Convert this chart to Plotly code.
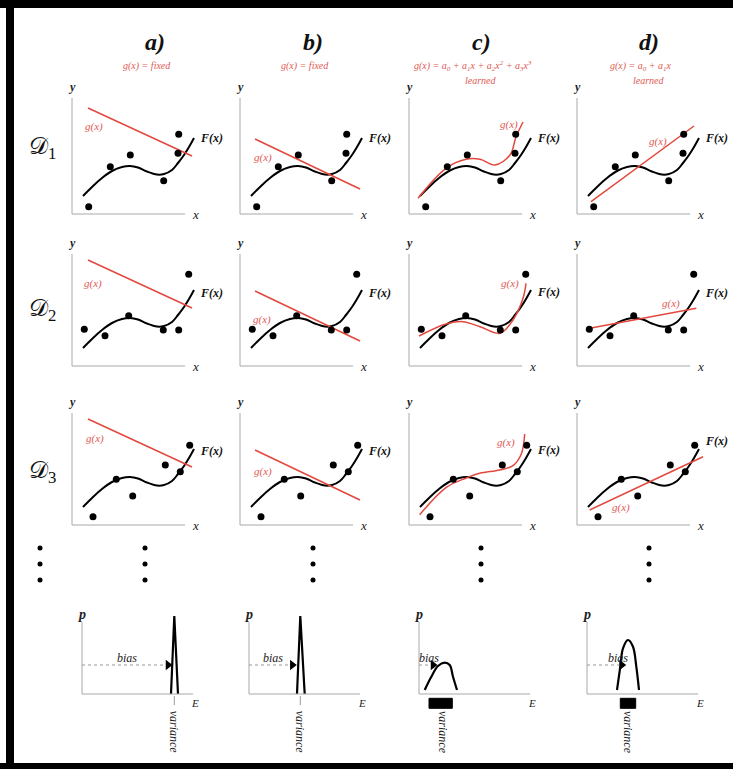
import plotly.graph_objects as go

# ---------------- data (panel units: 1 unit ~ 1 px, origin at panel axes corner) ----------------
# true function F(x)
F_x = [11, 20, 30, 40, 50, 58, 66, 75, 85, 92, 100, 106, 112, 117, 122]
F_y = [18, 27, 36, 43, 47, 48, 46.5, 42.5, 39.5, 40, 44, 51, 59, 67, 76]

# training sets D1, D2, D3
D1_x = [16.7, 38.3, 58.3, 91.7, 106, 106.7]
D1_y = [7.3, 47.3, 59, 33.3, 60.7, 79.7]
D2_x = [12.3, 33, 56.7, 91.3, 106.7, 116.7]
D2_y = [36.7, 30.3, 50.3, 36, 36, 91.7]
D3_x = [21, 44.3, 60.7, 93.3, 108.3, 117.7]
D3_y = [8.3, 45.7, 29, 60, 53.3, 79.7]

# model g(x) per column / dataset
ga_x = [16, 120]
ga_y = [106, 58]
gb_x = [15, 120]
gb_y = [75, 25]
gc1_x = [9, 37, 57, 71, 86, 101, 107, 114]
gc1_y = [15.7, 45.7, 54.7, 54.7, 49, 59, 77, 92]
gc2_x = [10, 37, 54, 71, 91, 104, 114, 117]
gc2_y = [30, 42, 44.3, 39.3, 32.7, 46, 67.7, 82.7]
gc3_x = [10.7, 37.3, 57.3, 70.7, 90.7, 104, 112.3, 115.7]
gc3_y = [10.3, 37.7, 47, 51.7, 55, 59.3, 71, 91]
gd1_x = [14, 117]
gd1_y = [12.3, 88]
gd2_x = [12.7, 119.3]
gd2_y = [37.7, 57.7]
gd3_x = [12.7, 126]
gd3_y = [15, 68.3]

col_titles = ["a)", "b)", "c)", "d)"]
col_models = [
    "g(x) = fixed",
    "g(x) = fixed",
    "g(x) = a<sub>0</sub> + a<sub>1</sub>x + a<sub>2</sub>x<sup>2</sup> + a<sub>3</sub>x<sup>3</sup>",
    "g(x) = a<sub>0</sub> + a<sub>1</sub>x",
]
col_notes = ["", "", "learned", "learned"]
row_labels = ["𝒟<sub>1</sub>", "𝒟<sub>2</sub>", "𝒟<sub>3</sub>"]

# error distributions p(E) for each column
distA_E = [89, 92.3, 96]
distA_p = [0, 78, 0]
distB_E = [48, 51.3, 55.7]
distB_p = [0, 78, 0]
distC_E = [5.7, 12.3, 19, 25.7, 30.7, 34, 38]
distC_p = [4, 17.3, 28, 31.3, 29, 17.3, 4]
distD_E = [30, 33.3, 36, 41, 46, 49.3, 52]
distD_p = [4, 27.3, 45.7, 54, 47.3, 27.3, 4]
bias_tip = [90, 47.3, 18, 38.7]
bias_level = 29
var_center = [92.3, 51.3, 24, 41]
var_lo = [None, None, 10, 33.3]
var_hi = [None, None, 33.3, 48.7]

# ---------------- layout geometry ----------------
W, H = 733, 769
RED = "#e2483d"
RED_T = "#e05a55"
AX = "#a8a8a8"
SERIF = "Liberation Serif, Times New Roman, serif"
col_x = [72, 240, 409, 577]
row_y = [214, 366, 525]
row_top = [116, 112, 112]
xlen = 113
bot_x = [82, 249, 419, 587]
bot_y = 694

datasets = [(D1_x, D1_y), (D2_x, D2_y), (D3_x, D3_y)]
g_models = [
    [(ga_x, ga_y, "linear"), (gb_x, gb_y, "linear"), (gc1_x, gc1_y, "spline"), (gd1_x, gd1_y, "linear")],
    [(ga_x, ga_y, "linear"), (gb_x, gb_y, "linear"), (gc2_x, gc2_y, "spline"), (gd2_x, gd2_y, "linear")],
    [(ga_x, ga_y, "linear"), (gb_x, gb_y, "linear"), (gc3_x, gc3_y, "spline"), (gd3_x, gd3_y, "linear")],
]
g_label_pos = [
    [(22, 88), (23, 57), (100, 90), (81, 73)],
    [(21, 83), (22, 47), (101, 83), (94, 63)],
    [(23, 87), (23, 54), (97, 83), (44, 18)],
]
F_label_v = [[76, 76, 76, 76], [73, 73, 74, 73], [74, 74, 75, 84]]

fig = go.Figure()
layout = dict(width=W, height=H, margin=dict(l=0, r=0, t=0, b=0),
              paper_bgcolor="white", plot_bgcolor="rgba(0,0,0,0)", showlegend=False)
shapes, annos = [], []


def make_axes(i, ox, oy, xr, yr):
    layout[f"xaxis{i}"] = dict(domain=[(ox + xr[0]) / W, (ox + xr[1]) / W], range=list(xr),
                               visible=False, fixedrange=True, anchor=f"y{i}")
    layout[f"yaxis{i}"] = dict(domain=[1 - (oy - yr[0]) / H, 1 - (oy - yr[1]) / H], range=list(yr),
                               visible=False, fixedrange=True, anchor=f"x{i}")


idx = 0
for r in range(3):
    for c in range(4):
        idx += 1
        ox, oy = col_x[c], row_y[r]
        make_axes(idx, ox, oy, (-20, 140), (-20, 140))
        xa, ya = f"x{idx}", f"y{idx}"
        # axes
        shapes.append(dict(type="line", xref=xa, yref=ya, x0=0, y0=0, x1=xlen, y1=0,
                           line=dict(color=AX, width=1)))
        shapes.append(dict(type="line", xref=xa, yref=ya, x0=0, y0=0, x1=0, y1=row_top[r],
                           line=dict(color=AX, width=1)))
        # F(x)
        fig.add_trace(go.Scatter(x=F_x, y=F_y, mode="lines", xaxis=xa, yaxis=ya,
                                 line=dict(color="black", width=2, shape="spline", smoothing=1.0),
                                 hoverinfo="skip"))
        gx, gy, shp = g_models[r][c]
        fig.add_trace(go.Scatter(x=gx, y=gy, mode="lines", xaxis=xa, yaxis=ya,
                                 line=dict(color=RED, width=1.5, shape=shp, smoothing=1.0),
                                 hoverinfo="skip"))
        dx, dy = datasets[r]
        fig.add_trace(go.Scatter(x=dx, y=dy, mode="markers", xaxis=xa, yaxis=ya, cliponaxis=False,
                                 marker=dict(color="black", size=7), hoverinfo="skip"))
        annos.append(dict(xref=xa, yref=ya, x=0, y=row_top[r] + 11, text="<b><i>y</i></b>",
                          showarrow=False, font=dict(family=SERIF, size=12, color="#222")))
        annos.append(dict(xref=xa, yref=ya, x=123, y=0, text="<i>x</i>",
                          showarrow=False, font=dict(family=SERIF, size=13, color="#222")))
        annos.append(dict(xref=xa, yref=ya, x=126, y=F_label_v[r][c], text="<b><i>F(x)</i></b>",
                          xanchor="left", showarrow=False, font=dict(family=SERIF, size=12, color="#111")))
        gxp, gyp = g_label_pos[r][c]
        annos.append(dict(xref=xa, yref=ya, x=gxp, y=gyp, text="<i>g(x)</i>",
                          showarrow=False, font=dict(family=SERIF, size=11, color=RED_T)))

# bottom error distributions
dists = [(distA_E, distA_p, "linear"), (distB_E, distB_p, "linear"),
         (distC_E, distC_p, "spline"), (distD_E, distD_p, "spline")]
for c in range(4):
    idx += 1
    ox = bot_x[c]
    make_axes(idx, ox, bot_y, (-20, 140), (-70, 90))
    xa, ya = f"x{idx}", f"y{idx}"
    shapes.append(dict(type="line", xref=xa, yref=ya, x0=0, y0=0, x1=111, y1=0,
                       line=dict(color=AX, width=1)))
    shapes.append(dict(type="line", xref=xa, yref=ya, x0=0, y0=0, x1=0, y1=72,
                       line=dict(color=AX, width=1)))
    ex, ep, shp = dists[c]
    fig.add_trace(go.Scatter(x=ex, y=ep, mode="lines", xaxis=xa, yaxis=ya,
                             line=dict(color="black", width=2.2, shape=shp, smoothing=1.0),
                             hoverinfo="skip"))
    # bias arrow
    fig.add_trace(go.Scatter(x=[0, bias_tip[c] - 5], y=[bias_level, bias_level], mode="lines",
                             xaxis=xa, yaxis=ya, line=dict(color="#999", width=1, dash="dot"),
                             hoverinfo="skip"))
    fig.add_trace(go.Scatter(x=[bias_tip[c] - 4], y=[bias_level], mode="markers", xaxis=xa, yaxis=ya,
                             cliponaxis=False,
                             marker=dict(symbol="triangle-right", color="black", size=9),
                             hoverinfo="skip"))
    annos.append(dict(xref=xa, yref=ya, x=bias_tip[c] / 2 if c < 2 else bias_tip[c] - 8,
                      y=bias_level + 7, text="<i>bias</i>", showarrow=False,
                      font=dict(family=SERIF, size=12, color="#222")))
    # variance marker
    if var_lo[c] is None:
        fig.add_trace(go.Scatter(x=[var_center[c], var_center[c]], y=[-2, -11], mode="lines",
                                 xaxis=xa, yaxis=ya, line=dict(color="#999", width=1),
                                 hoverinfo="skip"))
    else:
        fig.add_trace(go.Scatter(x=[var_lo[c], var_hi[c], var_hi[c], var_lo[c], var_lo[c]],
                                 y=[-4.3, -4.3, -14.3, -14.3, -4.3], mode="lines", fill="toself",
                                 fillcolor="black", xaxis=xa, yaxis=ya,
                                 line=dict(color="black", width=1), hoverinfo="skip"))
    annos.append(dict(xref=xa, yref=ya, x=var_center[c], y=-38, text="<i>variance</i>",
                      textangle=90, showarrow=False, font=dict(family=SERIF, size=12, color="#222")))
    annos.append(dict(xref=xa, yref=ya, x=0, y=80, text="<b><i>p</i></b>", showarrow=False,
                      font=dict(family=SERIF, size=14, color="#222")))
    annos.append(dict(xref=xa, yref=ya, x=113, y=-9, text="<i>E</i>", showarrow=False,
                      font=dict(family=SERIF, size=11, color="#222")))

# page overlay axis (pixel coordinates) for headings and frame
idx += 1
layout[f"xaxis{idx}"] = dict(domain=[0, 1], range=[0, W], visible=False, fixedrange=True, anchor=f"y{idx}")
layout[f"yaxis{idx}"] = dict(domain=[0, 1], range=[H, 0], visible=False, fixedrange=True, anchor=f"x{idx}")
pa, pb = f"x{idx}", f"y{idx}"
ell_x = [40, 40, 40, 145, 145, 145, 313, 313, 313, 481, 481, 481, 649, 649, 649]
ell_y = [548, 564, 580] * 5
fig.add_trace(go.Scatter(x=ell_x, y=ell_y, mode="markers", xaxis=pa, yaxis=pb,
                         marker=dict(color="black", size=5), hoverinfo="skip"))

title_x = [155, 313, 481, 649]
for c in range(4):
    annos.append(dict(xref=pa, yref=pb, x=title_x[c], y=42, text=f"<b><i>{col_titles[c]}</i></b>",
                      showarrow=False, font=dict(family=SERIF, size=24, color="#111")))
    annos.append(dict(xref=pa, yref=pb, x=title_x[c] - 8, y=66, text=f"<i>{col_models[c]}</i>",
                      showarrow=False, font=dict(family=SERIF, size=10, color=RED_T)))
    if col_notes[c]:
        annos.append(dict(xref=pa, yref=pb, x=title_x[c], y=80, text=f"<i>{col_notes[c]}</i>",
                          showarrow=False, font=dict(family=SERIF, size=10, color=RED_T)))
row_label_y = [148, 310, 472]
for r in range(3):
    annos.append(dict(xref=pa, yref=pb, x=27, y=row_label_y[r], text=row_labels[r], xanchor="left",
                      showarrow=False, font=dict(family=SERIF, size=24, color="#111")))

# black frame
for (x0, y0, x1, y1) in [(0, 0, W, 8), (6, 0, 14, H), (0, 763, W, H)]:
    shapes.append(dict(type="rect", xref=pa, yref=pb, x0=x0, y0=y0, x1=x1, y1=y1,
                       fillcolor="black", line=dict(width=0), layer="above"))

layout["shapes"] = shapes
layout["annotations"] = annos
fig.update_layout(**layout)
fig.write_html("out.html", config={"displayModeBar": False, "staticPlot": True},
               post_script="document.body.style.margin='0';document.body.style.overflow='hidden';")
